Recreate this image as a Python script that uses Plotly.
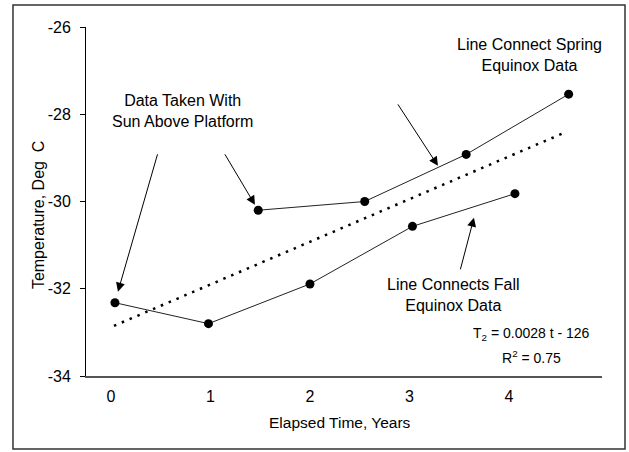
import plotly.graph_objects as go

# Data
fall_x = [0.04, 0.98, 2.00, 3.03, 4.06]
fall_y = [-32.32, -32.80, -31.89, -30.57, -29.82]
spring_x = [1.48, 2.55, 3.57, 4.60]
spring_y = [-30.20, -30.00, -28.92, -27.54]
trend_x = [0.03, 4.55]
trend_y = [-32.85, -28.43]
x_ticks = [0, 1, 2, 3, 4]
y_ticks = [-34, -32, -30, -28, -26]
y_tick_text = ["-34", "-32", "-30", "-28", "-26"]

FONT = "Liberation Sans, Arial, sans-serif"

fig = go.Figure()
fig.add_trace(go.Scatter(x=trend_x, y=trend_y, mode="lines",
                         line=dict(color="black", width=2.5, dash="2.5px,6px"),
                         hoverinfo="skip", showlegend=False))
fig.add_trace(go.Scatter(x=fall_x, y=fall_y, mode="lines+markers",
                         line=dict(color="#222", width=1),
                         marker=dict(color="black", size=9),
                         showlegend=False))
fig.add_trace(go.Scatter(x=spring_x, y=spring_y, mode="lines+markers",
                         line=dict(color="#222", width=1),
                         marker=dict(color="black", size=9),
                         showlegend=False))

ann = []
def txt(x, y, t, size=16, **kw):
    d = dict(x=x, y=y, xref="x", yref="y", text=t, showarrow=False,
             xanchor="center", yanchor="middle",
             font=dict(family=FONT, size=size, color="black"), align="center")
    d.update(kw)
    ann.append(d)

def arrow(tx, ty, hx, hy):
    ann.append(dict(x=hx, y=hy, ax=tx, ay=ty, xref="x", yref="y",
                    axref="x", ayref="y", text="", showarrow=True,
                    arrowhead=2, arrowsize=1.8, arrowwidth=1, arrowcolor="black"))

txt(0.714, -27.92, "Data Taken With<br>Sun Above Platform")
txt(4.211, -26.64, "Line Connect Spring<br>Equinox Data")
txt(3.447, -32.14, "Line Connects Fall<br>Equinox Data")
txt(4.231, -33.03, "T<sub>2</sub> = 0.0028 t - 126", size=14)
txt(4.231, -33.56, "R<sup>2</sup> = 0.75", size=14)

arrow(0.472, -28.884, 0.070, -32.069)
arrow(1.136, -28.884, 1.447, -30.076)
arrow(2.874, -27.739, 3.286, -29.182)
arrow(3.508, -31.588, 3.648, -30.373)

# axis titles
ann.append(dict(x=-0.093, y=0.461, xref="paper", yref="paper",
                xanchor="center", yanchor="middle",
                text="Temperature, Deg\u00a0 C", textangle=-90, showarrow=False,
                font=dict(family=FONT, size=16, color="black")))
ann.append(dict(x=0.492, y=-0.132, xref="paper", yref="paper",
                xanchor="center", yanchor="middle",
                text="Elapsed Time, Years", showarrow=False,
                font=dict(family=FONT, size=15.5, color="black")))

fig.update_layout(
    width=629, height=452, autosize=False,
    margin=dict(l=86, r=27, t=27, b=76),
    paper_bgcolor="white", plot_bgcolor="white",
    font=dict(family=FONT, size=15, color="black"),
    annotations=ann,
    shapes=[dict(type="rect", xref="paper", yref="paper",
                 x0=-0.1415, x1=1.0446, y0=-0.209, y1=1.063,
                 line=dict(color="#333", width=1.5))],
    xaxis=dict(range=[-0.251, 4.935], tickvals=x_ticks, ticks="",
               showgrid=False, zeroline=False, showline=True,
               linecolor="#555", linewidth=1.5, ticklabelstandoff=5,
               tickfont=dict(size=16)),
    yaxis=dict(range=[-34, -26], tickvals=y_ticks, ticktext=y_tick_text,
               ticks="outside", ticklen=5, tickcolor="black",
               showgrid=False, zeroline=False, showline=True,
               linecolor="black", linewidth=1, ticklabelstandoff=6,
               tickfont=dict(size=16)),
)

fig.write_html("out.html")
